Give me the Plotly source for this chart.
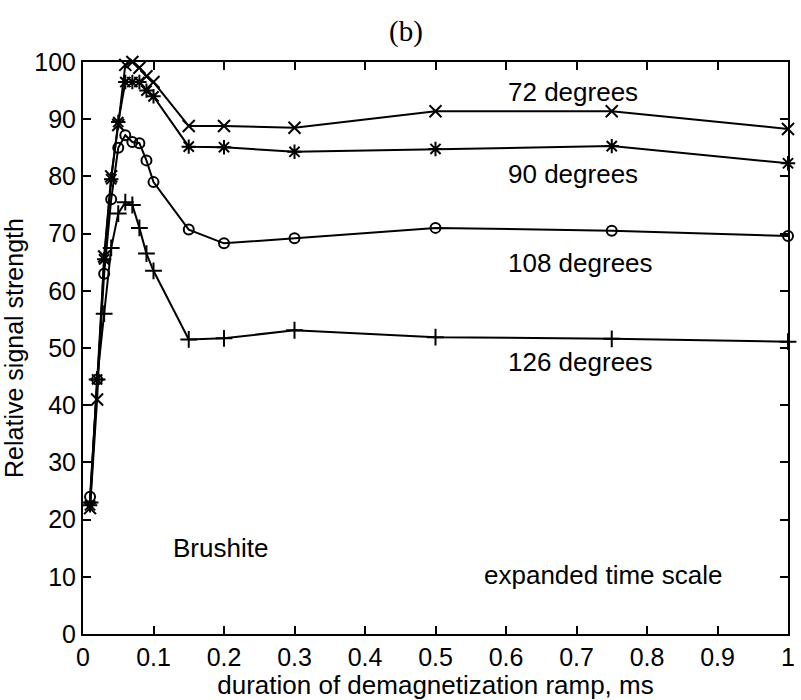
import plotly.graph_objects as go

x = [0.01, 0.02, 0.03, 0.04, 0.05, 0.06, 0.07, 0.08, 0.09, 0.10, 0.15, 0.20, 0.30, 0.50, 0.75, 1.00]

deg72 = [22.0, 41.0, 66.0, 80.0, 89.0, 99.5, 100.0, 99.0, 97.5, 96.5, 88.8, 88.8, 88.5, 91.4, 91.4, 88.3]
deg90 = [22.5, 44.5, 65.5, 79.5, 89.5, 96.5, 96.5, 96.5, 95.0, 94.0, 85.2, 85.1, 84.3, 84.8, 85.3, 82.3]
deg108 = [24.0, 44.5, 63.0, 76.0, 85.0, 87.2, 86.0, 85.8, 82.8, 79.0, 70.7, 68.3, 69.2, 71.0, 70.5, 69.6]
deg126 = [23.0, 44.5, 56.0, 67.5, 73.5, 75.5, 75.0, 71.0, 66.5, 63.5, 51.5, 51.7, 53.1, 51.9, 51.6, 51.1]

series = [
    ("72 degrees", deg72, "x-thin-open", 12),
    ("90 degrees", deg90, "asterisk-open", 12),
    ("108 degrees", deg108, "circle-open", 10),
    ("126 degrees", deg126, "cross-thin-open", 12),
]

xticks = [0, 0.1, 0.2, 0.3, 0.4, 0.5, 0.6, 0.7, 0.8, 0.9, 1]
xticklabels = ["0", "0.1", "0.2", "0.3", "0.4", "0.5", "0.6", "0.7", "0.8", "0.9", "1"]
yticks = list(range(0, 101, 10))

label_pos = [
    ("72 degrees", 0.60, 94.7),
    ("90 degrees", 0.60, 80.4),
    ("108 degrees", 0.60, 64.8),
    ("126 degrees", 0.60, 47.6),
    ("Brushite", 0.125, 15.0),
    ("expanded time scale", 0.566, 10.3),
]

SANS = "Liberation Sans, Arial, Helvetica"

fig = go.Figure()
for name, ys, sym, sz in series:
    fig.add_trace(go.Scatter(
        x=x, y=ys, mode="lines+markers", name=name,
        line=dict(color="black", width=2),
        marker=dict(symbol=sym, size=sz, color="black",
                    line=dict(color="black", width=2)),
        cliponaxis=False,
    ))

for txt, ax, ay in label_pos:
    fig.add_annotation(x=ax, y=ay, xref="x", yref="y", text=txt,
                       showarrow=False, xanchor="left", yanchor="middle",
                       font=dict(family=SANS, size=26, color="black"))

fig.update_layout(
    width=801, height=700,
    margin=dict(l=83, r=6, t=62, b=66),
    paper_bgcolor="white", plot_bgcolor="white",
    showlegend=False,
    title=dict(text="(b)", x=406 / 801, xanchor="center", y=1 - 31 / 700, yanchor="middle",
               font=dict(family="Liberation Serif, Times New Roman", size=29, color="black")),
    font=dict(family=SANS, size=25, color="black"),
)
fig.update_xaxes(
    range=[0, 1], tickvals=xticks, ticktext=xticklabels,
    showline=True, linecolor="black", linewidth=2, mirror="ticks",
    ticks="inside", ticklen=8, tickcolor="black", tickwidth=1.5,
    showgrid=False, zeroline=False,
    title=dict(text="duration of demagnetization ramp, ms", standoff=0,
               font=dict(size=26)),
    tickfont=dict(size=25),
)
fig.update_yaxes(
    range=[0, 100], tickvals=yticks,
    showline=True, linecolor="black", linewidth=2, mirror="ticks",
    ticks="inside", ticklen=8, tickcolor="black", tickwidth=1.5,
    showgrid=False, zeroline=False,
    title=dict(text="Relative signal strength", standoff=4, font=dict(size=25)),
    tickfont=dict(size=25),
)

fig.write_html("out.html")
